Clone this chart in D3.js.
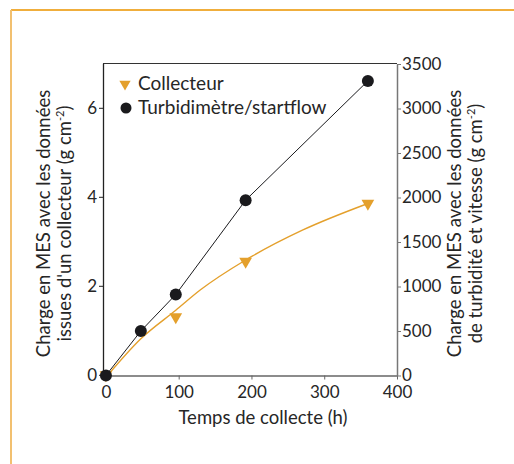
<!DOCTYPE html>
<html><head><meta charset="utf-8">
<script src="https://cdn.jsdelivr.net/npm/d3@7"></script>
<style>
html,body{margin:0;padding:0;background:#fff;}
svg{display:block;font-family:Lato,"Open Sans",sans-serif;}
</style></head>
<body>
<svg id="c" width="514" height="464"></svg>
<script>
// ---- data ----
const collTimes = [0, 96, 192, 360];
const collValues = [0, 1.30, 2.55, 3.85];          // left axis (g cm-2)
const turbTimes = [0, 48, 96, 192, 360];
const turbValues = [0, 500, 910, 1970, 3310];      // right axis (g cm-2)
const collFitTimes = [3, 48, 96, 130, 192, 270, 360];
const collFitValues = [0, 0.81, 1.45, 1.91, 2.58, 3.25, 3.85];
const xTicks = [0, 100, 200, 300, 400];
const leftTicks = [0, 2, 4, 6];
const rightTicks = [0, 500, 1000, 1500, 2000, 2500, 3000, 3500];
const seriesNames = ["Collecteur", "Turbidimètre/startflow"];
const xTitle = "Temps de collecte (h)";
const leftTitle = ["Charge en MES avec les données", "issues d'un collecteur (g cm", "-2", ")"];
const rightTitle = ["Charge en MES avec les données", "de turbidité et vitesse (g cm", "-2", ")"];

const orange = "#e4a02c", black = "#1a1a1d", txt = "#262626";
const svg = d3.select("#c");

// frame
svg.append("line").attr("x1",11).attr("y1",10).attr("x2",514).attr("y2",10).attr("stroke","#f0ae3c").attr("stroke-width",2);
svg.append("line").attr("x1",11).attr("y1",10).attr("x2",11).attr("y2",464).attr("stroke","#f2c070").attr("stroke-width",2);

const L = 103, R = 397, T = 63.5, B = 375.5;
const x = d3.scaleLinear().domain([-4, 400]).range([L, R]);
const yL = d3.scaleLinear().domain([0, 7]).range([374.8, 63.3]);
const yR = d3.scaleLinear().domain([0, 3500]).range([375.5, 64]);
const fmt = d3.format("d");

const fs = 17;
// top border
svg.append("line").attr("x1",L).attr("x2",R).attr("y1",T).attr("y2",T).attr("stroke","#333").attr("stroke-width",1.2);

const gx = svg.append("g").attr("transform",`translate(0,${B})`)
  .call(d3.axisBottom(x).tickValues(xTicks).tickFormat(fmt).tickSize(4).tickPadding(6).tickSizeOuter(0));
gx.select(".domain").attr("stroke","#666").attr("stroke-width",1.5);
gx.selectAll(".tick line").attr("stroke","#666");
gx.selectAll("text").attr("font-size",fs).attr("fill",txt).attr("font-family","Lato");

const gl = svg.append("g").attr("transform",`translate(${L},0)`)
  .call(d3.axisLeft(yL).tickValues(leftTicks).tickFormat(fmt).tickSize(4).tickPadding(2).tickSizeOuter(0));
gl.select(".domain").attr("stroke","#222").attr("stroke-width",1.3);
gl.selectAll(".tick line").attr("stroke","#222");
gl.selectAll("text").attr("font-size",fs).attr("fill",txt).attr("font-family","Lato");

const gr = svg.append("g").attr("transform",`translate(${R},0)`)
  .call(d3.axisRight(yR).tickValues(rightTicks).tickFormat(fmt).tickSize(4).tickPadding(1).tickSizeOuter(0));
gr.select(".domain").attr("stroke","#777").attr("stroke-width",1.5);
gr.selectAll(".tick line").attr("stroke","#777");
gr.selectAll("text").attr("font-size",fs).attr("fill",txt).attr("font-family","Lato");

// lines
const turb = turbTimes.map((t,i)=>[t, turbValues[i]]);
const collFit = collFitTimes.map((t,i)=>[t, collFitValues[i]]);
svg.append("path").datum(turb).attr("fill","none").attr("stroke",black).attr("stroke-width",1)
  .attr("d", d3.line().x(d=>x(d[0])).y(d=>yR(d[1])));
svg.append("path").datum(collFit).attr("fill","none").attr("stroke",orange).attr("stroke-width",1.4)
  .attr("d", d3.line().x(d=>x(d[0])).y(d=>yL(d[1])).curve(d3.curveMonotoneX));

// markers
const tri = d3.symbol().type(d3.symbolTriangle).size(70);
svg.append("g").selectAll("path").data(collTimes.map((t,i)=>[t, collValues[i]])).join("path")
  .attr("d", tri).attr("fill", orange)
  .attr("transform", d=>`translate(${x(d[0])},${yL(d[1])}) rotate(180)`);
svg.append("g").selectAll("circle").data(turb).join("circle")
  .attr("cx", d=>x(d[0])).attr("cy", d=>yR(d[1])).attr("r",6).attr("fill",black);

// legend
svg.append("path").attr("d", d3.symbol().type(d3.symbolTriangle).size(55)).attr("fill",orange)
  .attr("transform","translate(125,84) rotate(180)");
svg.append("circle").attr("cx",126).attr("cy",108).attr("r",5.5).attr("fill",black);
const lfs = 19;
svg.append("text").attr("x",138).attr("y",90).attr("font-size",lfs).attr("fill",txt).text(seriesNames[0]);
svg.append("text").attr("x",138).attr("y",114).attr("font-size",lfs).attr("fill",txt).text(seriesNames[1]);

// axis titles
const tfs = 18.5;
svg.append("text").attr("x",(L+R)/2+13).attr("y",424).attr("text-anchor","middle").attr("font-size",tfs).attr("fill",txt).text(xTitle);

function vTitle(cx, lines){
  const g = svg.append("g").attr("transform",`translate(${cx},${(T+B)/2+4}) rotate(-90)`);
  g.append("text").attr("x",0).attr("y",0).attr("text-anchor","middle").attr("font-size",tfs).attr("fill",txt).text(lines[0]);
  const t2 = g.append("text").attr("x",0).attr("y",21).attr("text-anchor","middle").attr("font-size",tfs).attr("fill",txt);
  t2.append("tspan").text(lines[1]);
  t2.append("tspan").attr("dy",-7).attr("font-size",11).text(lines[2]);
  t2.append("tspan").attr("dy",7).text(lines[3]);
}
vTitle(50, leftTitle);
vTitle(461, rightTitle);
</script>
</body></html>
